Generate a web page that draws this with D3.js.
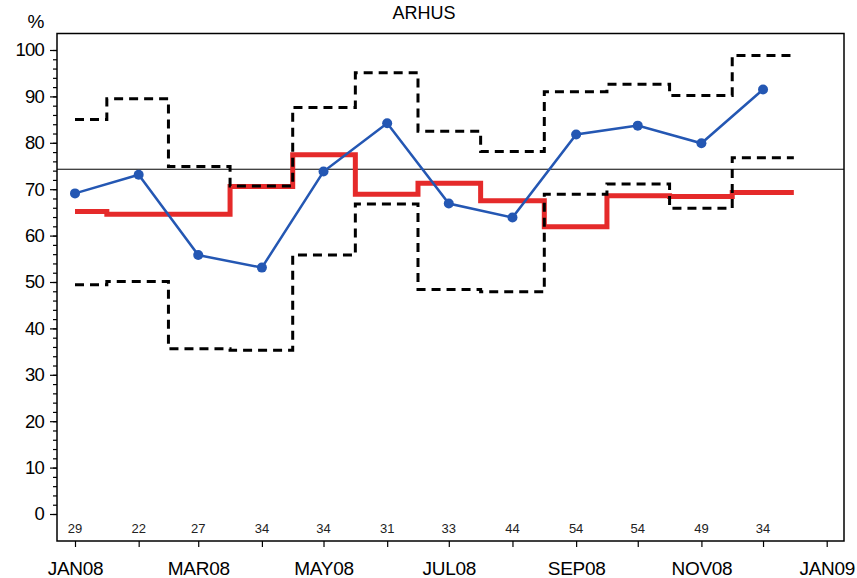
<!DOCTYPE html>
<html><head><meta charset="utf-8">
<script src="https://cdn.jsdelivr.net/npm/d3@7"></script>
<style>
body{margin:0;background:#fff}
svg{display:block}
text{font-family:"Liberation Sans",Arial,Helvetica,sans-serif}
</style>
</head><body>
<svg id="c" width="857" height="578"></svg>
<script>
// ---- data ----
const months = ["2008-01-01","2008-02-01","2008-03-01","2008-04-01","2008-05-01","2008-06-01",
                "2008-07-01","2008-08-01","2008-09-01","2008-10-01","2008-11-01","2008-12-01"];
const observed   = [69.1, 73.1, 55.8, 53.1, 73.8, 84.2, 66.9, 63.9, 81.8, 83.7, 79.9, 91.5];
const expected   = [65.2, 64.6, 64.6, 70.6, 77.4, 68.9, 71.3, 67.5, 61.9, 68.6, 68.4, 69.3];
const upperLimit = [85.0, 89.5, 74.9, 70.7, 87.6, 95.1, 82.5, 78.1, 91.0, 92.6, 90.2, 98.8];
const lowerLimit = [49.4, 50.1, 35.6, 35.3, 55.8, 66.8, 48.4, 47.9, 68.9, 71.1, 65.9, 76.8];
const counts     = [29, 22, 27, 34, 34, 31, 33, 44, 54, 54, 49, 34];
const referenceLevel = 74.3;
const yTickValues = [0, 10, 20, 30, 40, 50, 60, 70, 80, 90, 100];
const xTickLabels = ["JAN08", "MAR08", "MAY08", "JUL08", "SEP08", "NOV08", "JAN09"];
const titleText = "ARHUS";
const yUnit = "%";

// ---- layout ----
const svg = d3.select("#c");
const frame = {left: 57, top: 33.5, right: 844, bottom: 541};
const parse = d3.utcParse("%Y-%m-%d");
const dates = months.map(parse);
const x = d3.scaleUtc().domain([parse("2008-01-01"), parse("2009-01-01")]).range([75, 826.7]);
const y = d3.scaleLinear().domain([0, 100]).range([514, 50]);

svg.append("rect").attr("width", 857).attr("height", 578).attr("fill", "#fff");

// title and unit
svg.append("text").attr("x", 424).attr("y", 18.5).attr("text-anchor", "middle")
  .attr("font-size", 18).text(titleText);
svg.append("text").attr("x", 36).attr("y", 28).attr("text-anchor", "middle")
  .attr("font-size", 19).text(yUnit);

// y axis minor + major
const yMinor = svg.append("g").attr("transform", `translate(${frame.left},0)`)
  .call(d3.axisLeft(y).tickValues(d3.range(0, 101, 2)).tickSize(4).tickFormat(""));
yMinor.select(".domain").remove();
const yAxis = svg.append("g").attr("transform", `translate(${frame.left},0)`)
  .call(d3.axisLeft(y).tickValues(yTickValues).tickSize(7).tickPadding(6));
yAxis.select(".domain").remove();
yAxis.selectAll("text").attr("font-size", 18.5).attr("font-family", null).attr("letter-spacing", -0.8).attr("fill", "#000");
svg.selectAll(".tick line").attr("stroke", "#000").attr("stroke-width", 1.2);

// x axis: monthly ticks, labels every second month
const monthTicks = d3.utcMonth.range(parse("2008-01-01"), parse("2009-01-02"));
const xAxis = svg.append("g").attr("transform", `translate(0,${frame.bottom})`)
  .call(d3.axisBottom(x).tickValues(monthTicks).tickSize(6).tickPadding(14.5)
    .tickFormat((d, i) => i % 2 === 0 ? xTickLabels[i / 2] : ""));
xAxis.select(".domain").remove();
xAxis.selectAll("text").attr("font-size", 19).attr("font-family", null).attr("letter-spacing", -0.3).attr("fill", "#000");
xAxis.selectAll(".tick line").attr("stroke", "#000").attr("stroke-width", 1.2);

// frame
svg.append("rect").attr("x", frame.left).attr("y", frame.top)
  .attr("width", frame.right - frame.left).attr("height", frame.bottom - frame.top)
  .attr("fill", "none").attr("stroke", "#000").attr("stroke-width", 1.5);

// reference line
svg.append("line").attr("x1", frame.left).attr("x2", frame.right)
  .attr("y1", y(referenceLevel)).attr("y2", y(referenceLevel))
  .attr("stroke", "#000").attr("stroke-width", 1);

// step builder: each value spans midpoint-to-midpoint around its month
function stepPoints(values) {
  const n = dates.length, pts = [];
  const xs = dates.map(d => x(d));
  values.forEach((v, i) => {
    const x0 = i === 0 ? xs[0] : (xs[i - 1] + xs[i]) / 2;
    const x1 = i === n - 1 ? xs[i] + (xs[i] - xs[i - 1]) / 2 : (xs[i] + xs[i + 1]) / 2;
    pts.push([x0, y(v)], [x1, y(v)]);
  });
  return pts;
}
const line = d3.line();

svg.append("path").attr("d", line(stepPoints(expected)))
  .attr("fill", "none").attr("stroke", "#e52a2a").attr("stroke-width", 5);

[upperLimit, lowerLimit].forEach(arr => {
  svg.append("path").attr("d", line(stepPoints(arr)))
    .attr("fill", "none").attr("stroke", "#000").attr("stroke-width", 3)
    .attr("stroke-dasharray", "9,6");
});

// observed
svg.append("path").attr("d", d3.line().x((d, i) => x(dates[i])).y(d => y(d))(observed))
  .attr("fill", "none").attr("stroke", "#2457b3").attr("stroke-width", 2.5);
svg.selectAll(".pt").data(observed).join("circle").attr("class", "pt")
  .attr("cx", (d, i) => x(dates[i])).attr("cy", d => y(d)).attr("r", 5)
  .attr("fill", "#2457b3");

// counts
svg.selectAll(".cnt").data(counts).join("text").attr("class", "cnt")
  .attr("x", (d, i) => x(dates[i])).attr("y", 533).attr("text-anchor", "middle")
  .attr("font-size", 13).attr("fill", "#222").text(d => d);
</script>
</body></html>
